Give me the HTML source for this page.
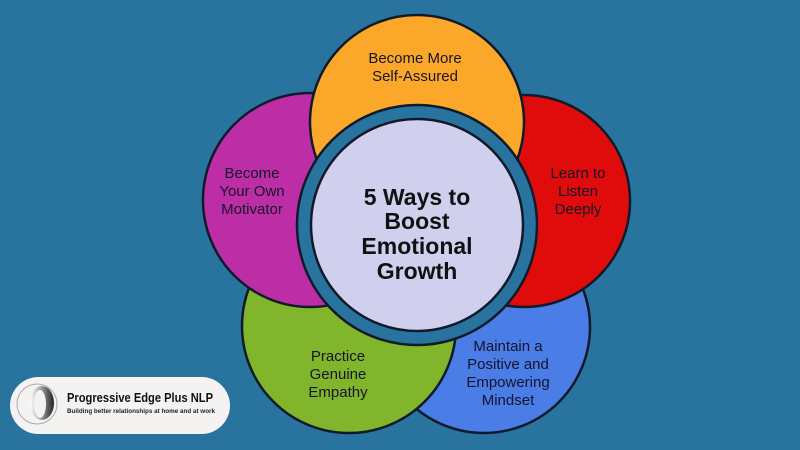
<!DOCTYPE html>
<html><head><meta charset="utf-8"><style>
html,body{margin:0;padding:0;background:#28749f;}
svg{display:block}
text{font-family:"Liberation Sans","DejaVu Sans",sans-serif;}
</style></head><body>
<svg width="800" height="450" viewBox="0 0 800 450" xmlns="http://www.w3.org/2000/svg">
<rect width="800" height="450" fill="#28749f"/>
<g stroke="#111a2a" stroke-width="2.5">
<circle cx="484" cy="327" r="106" fill="#4a7de6"/>
<circle cx="349" cy="326" r="107" fill="#80b52c"/>
<circle cx="310" cy="200" r="107" fill="#bd2ea6"/>
<circle cx="524" cy="201" r="106" fill="#e00c0c"/>
<circle cx="417" cy="122" r="107" fill="#fba82a"/>
<circle cx="417" cy="225" r="120" fill="#28749f"/>
<circle cx="417" cy="225" r="106" fill="#d0d0ee"/>
</g>
<g font-size="15" fill="#14142a" text-anchor="middle">
<text x="415" y="63">Become More</text>
<text x="415" y="81">Self-Assured</text>
<text x="252" y="178">Become</text>
<text x="252" y="196">Your Own</text>
<text x="252" y="214">Motivator</text>
<text x="578" y="178">Learn to</text>
<text x="578" y="196">Listen</text>
<text x="578" y="214">Deeply</text>
<text x="338" y="361">Practice</text>
<text x="338" y="379">Genuine</text>
<text x="338" y="397">Empathy</text>
<text x="508" y="351">Maintain a</text>
<text x="508" y="369">Positive and</text>
<text x="508" y="387">Empowering</text>
<text x="508" y="405">Mindset</text>
</g>
<g font-size="23" font-weight="bold" fill="#111" text-anchor="middle">
<text x="417" y="205">5 Ways to</text>
<text x="417" y="229">Boost</text>
<text x="417" y="254">Emotional</text>
<text x="417" y="279">Growth</text>
</g>
<rect x="10" y="377" width="220" height="57" rx="28.5" fill="#f4f3f1"/>
<defs><linearGradient id="g" x1="0" x2="1"><stop offset="0" stop-color="#fff"/><stop offset="0.5" stop-color="#999"/><stop offset="1" stop-color="#222"/></linearGradient></defs>
<circle cx="37" cy="404" r="20" fill="none" stroke="#aaa" stroke-width="1"/>
<ellipse cx="42" cy="403" rx="12" ry="17" fill="url(#g)"/>
<ellipse cx="40" cy="404" rx="6" ry="14" fill="#f4f3f1"/>
<text x="67" y="402" font-size="12.5" font-weight="bold" fill="#111" textLength="146" lengthAdjust="spacingAndGlyphs">Progressive Edge Plus NLP</text>
<text x="67" y="413" font-size="6.5" font-weight="bold" fill="#222" textLength="148" lengthAdjust="spacingAndGlyphs">Building better relationships at home and at work</text>
</svg>
</body></html>
